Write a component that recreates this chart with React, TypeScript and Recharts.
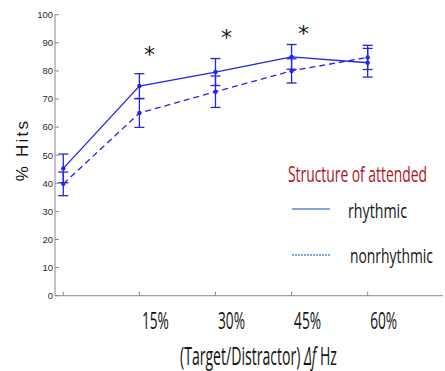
import React, { useLayoutEffect, useRef, useState } from 'react';
import { LineChart, Line, XAxis, YAxis, ErrorBar, LabelList, Legend } from 'recharts';

// condition index along the x axis (0 = no separation)
const steps = [0, 1, 2, 3, 4];
const stepLabels = ['', '15%', '30%', '45%', '60%'];
const rhythmic = [45.3, 74.6, 79.6, 85.0, 82.9];
const rhythmicErr = [5.1, 4.4, 4.8, 4.4, 5.1];
const nonrhythmic = [39.8, 65.0, 72.6, 80.0, 84.8];
const nonrhythmicErr = [4.2, 5.1, 5.6, 4.3, 4.3];
const starLevel = [null, 87.4, 93.5, 94.9, null];
const starShift = [0, 10, 11, 12, 0];
const yTicks = [0, 10, 20, 30, 40, 50, 60, 70, 80, 90, 100];

const data = steps.map((s, i) => ({
    step: s,
    rhythmic: rhythmic[i],
    rErr: rhythmicErr[i],
    nonrhythmic: nonrhythmic[i],
    nErr: nonrhythmicErr[i],
    star: starLevel[i],
}));

const BLUE = '#2424ee';
const AXIS = '#8a8a8a';
const INK = '#141414';
const SANS = "'Open Sans', sans-serif";
const X_DOMAIN: [number, number] = [-0.109, 4.99];

// the slide text is a squeezed Calibri; squeeze Open Sans to the same width
const FitText = (props: any) => {
    const { x, y, width, anchor = 'start', children, ...rest } = props;
    const ref = useRef<SVGTextElement>(null);
    const [k, setK] = useState(1);
    useLayoutEffect(() => {
        if (ref.current) {
            const w = ref.current.getComputedTextLength();
            if (w > 0) setK(width / w);
        }
    }, [width]);
    return (
        <text ref={ref} x={0} y={0} textAnchor={anchor} fontFamily={SANS} fontWeight={500} fill={INK}
            transform={`translate(${x},${y}) scale(${k},1)`} {...rest}>
            {children}
        </text>
    );
};

const StepTick = (props: any) => {
    const { x, y, payload } = props;
    const text = stepLabels[payload.value];
    if (!text) return <g />;
    return <FitText x={x + 16} y={y + 37} width={27} anchor="middle" fontSize={24}>{text}</FitText>;
};

const Star = (props: any) => {
    const { x, y, value, index } = props;
    if (value == null || x == null || y == null) return null;
    return (
        <text x={x + starShift[index]} y={y + 12} textAnchor="middle" fontSize={22}
            fontFamily="'DejaVu Sans', sans-serif" fill={INK}>*</text>
    );
};

const LegendBox = () => (
    <svg width={165} height={115} style={{ overflow: 'visible' }}>
        <FitText x={8} y={27} width={139} fontSize={21} fill="#b0141c">Structure of attended</FitText>
        <line x1={12} x2={50} y1={54} y2={54} stroke="#5b87d2" strokeWidth={1.5} />
        <FitText x={68} y={63} width={59} fontSize={20}>rhythmic</FitText>
        <line x1={12} x2={50} y1={100} y2={100} stroke="#5b87d2" strokeWidth={1.5} strokeDasharray="2 1" />
        <FitText x={70} y={108} width={83} fontSize={20}>nonrhythmic</FitText>
    </svg>
);

const XTitle = () => (
    <FitText x={180} y={365} width={157} fontSize={26}>
        (Target/Distractor) <tspan fontStyle="italic">Δf</tspan> Hz
    </FitText>
);

const YTitle = () => (
    <text x={28} y={150} transform="rotate(-90 28 150)" textAnchor="middle" fill={INK}
        fontFamily="'Liberation Sans', Arial, sans-serif" fontSize={17} letterSpacing={2.2}>
        % Hits
    </text>
);

export default function App() {
    return (
        <div style={{ position: 'absolute', left: 0, top: 0, width: 445, height: 371, background: '#fff' }}>
            <LineChart width={445} height={371} data={data}
                margin={{ top: 14.7, right: 2, bottom: 0, left: 0 }}>
                <XAxis dataKey="step" type="number" domain={X_DOMAIN} ticks={steps} allowDataOverflow
                    height={75.3} stroke={AXIS} tickSize={-4} tickMargin={0} tick={<StepTick />}
                    label={<XTitle />} />
                <XAxis xAxisId="top" orientation="top" type="number" domain={X_DOMAIN} ticks={steps}
                    allowDataOverflow height={0} stroke={AXIS} tickSize={-4} tick={false} />
                <YAxis type="number" domain={[0, 100]} ticks={yTicks} width={55} stroke={AXIS}
                    tickSize={-4} tickMargin={6} allowDataOverflow
                    tick={{ fill: '#2a2a2a', fontSize: 9.5, fontFamily: "'Liberation Sans', Arial, sans-serif" }}
                    label={<YTitle />} />
                <YAxis yAxisId="right" orientation="right" type="number" domain={[0, 100]} ticks={yTicks}
                    width={0} stroke={AXIS} tickSize={-4} tick={false} allowDataOverflow />
                <Line dataKey="rhythmic" name="rhythmic" stroke={BLUE} strokeWidth={1.3}
                    dot={{ r: 2.2, fill: BLUE, stroke: BLUE, strokeWidth: 0 }} isAnimationActive={false}>
                    <ErrorBar dataKey="rErr" width={5} stroke={BLUE} strokeWidth={1.3} direction="y" />
                </Line>
                <Line dataKey="nonrhythmic" name="nonrhythmic" stroke={BLUE} strokeWidth={1.3}
                    strokeDasharray="6 4"
                    dot={{ r: 2.2, fill: BLUE, stroke: BLUE, strokeWidth: 0 }} isAnimationActive={false}>
                    <ErrorBar dataKey="nErr" width={5} stroke={BLUE} strokeWidth={1.3} direction="y" />
                </Line>
                <Line dataKey="star" stroke="none" dot={false} activeDot={false} legendType="none"
                    isAnimationActive={false}>
                    <LabelList dataKey="star" content={<Star />} />
                </Line>
                <Legend layout="vertical" align="center" verticalAlign="middle" content={<LegendBox />}
                    wrapperStyle={{ left: 280, top: 155, width: 165, height: 115 }} />
            </LineChart>
        </div>
    );
}
